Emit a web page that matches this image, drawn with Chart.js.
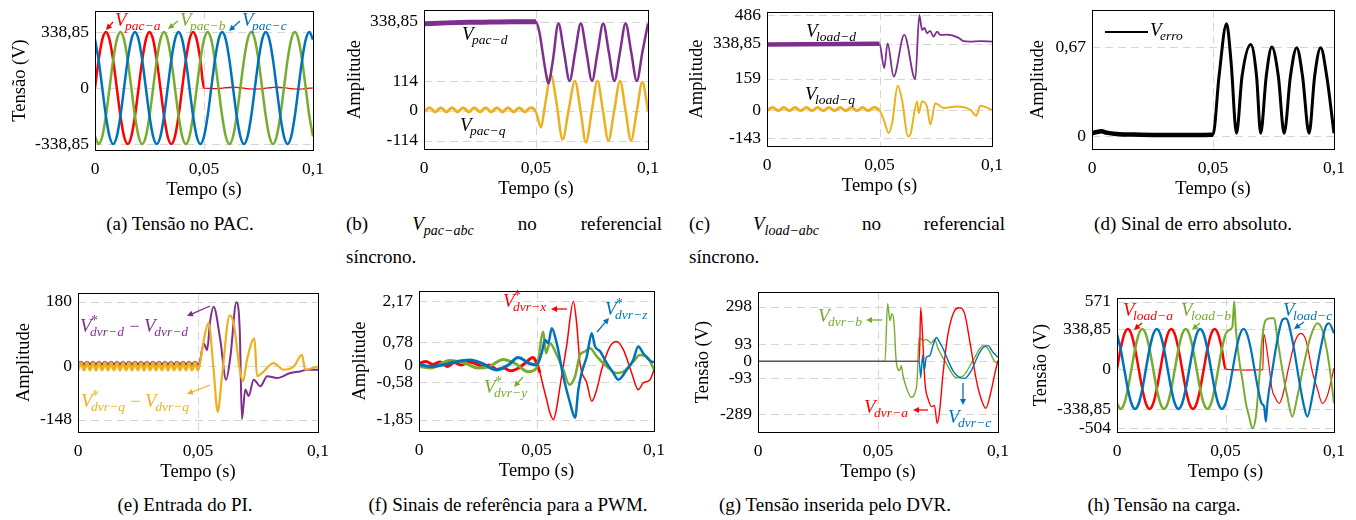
<!DOCTYPE html>
<html>
<head>
<meta charset="utf-8">
<script src="https://cdn.jsdelivr.net/npm/chart.js@4.4.1/dist/chart.umd.min.js"></script>
<style>
  html, body { margin: 0; padding: 0; background: #fff; }
  body { position: relative; width: 1356px; height: 520px; overflow: hidden; font-family: "Liberation Serif", "DejaVu Serif", serif; }
  canvas { position: absolute; }
  .cap { position: absolute; font-size: 19px; line-height: 22px; white-space: nowrap; color: #000; }
  .mid { transform: translateX(-50%); }
  .cap i { font-size: 19px; }
  .cap sub { font-style: italic; font-size: 14px; vertical-align: -5px; line-height: 0; }
</style>
</head>
<body>
<div class="cap mid" style="left:180px;top:213px">(a) Tensão no PAC.</div>
<div class="cap" style="left:346px;top:213px;width:316px;display:flex;justify-content:space-between"><span>(b)</span><span><i>V</i><sub>pac−abc</sub></span><span>no</span><span>referencial</span></div>
<div class="cap" style="left:346px;top:246px">síncrono.</div>
<div class="cap" style="left:689px;top:213px;width:316px;display:flex;justify-content:space-between"><span>(c)</span><span><i>V</i><sub>load−abc</sub></span><span>no</span><span>referencial</span></div>
<div class="cap" style="left:689px;top:246px">síncrono.</div>
<div class="cap mid" style="left:1193px;top:213px">(d) Sinal de erro absoluto.</div>
<div class="cap mid" style="left:185px;top:494px">(e) Entrada do PI.</div>
<div class="cap mid" style="left:508px;top:494px">(f) Sinais de referência para a PWM.</div>
<div class="cap mid" style="left:835px;top:494px">(g) Tensão inserida pelo DVR.</div>
<div class="cap mid" style="left:1164px;top:494px">(h) Tensão na carga.</div>

<canvas id="a"></canvas><canvas id="b"></canvas><canvas id="c"></canvas><canvas id="d"></canvas>
<canvas id="e"></canvas><canvas id="f"></canvas><canvas id="g"></canvas><canvas id="h"></canvas>

<script>
// ---- (a) tensão no PAC, 50 Hz, amostras a cada 30 graus
const tA = [0,0.00167,0.00333,0.005,0.00667,0.00833,0.01,0.01167,0.01333,0.015,0.01667,0.01833,0.02,0.02167,0.02333,0.025,0.02667,0.02833,0.03,0.03167,0.03333,0.035,0.03667,0.03833,0.04,0.04167,0.04333,0.045,0.04667,0.04833,0.05,0.05167,0.05333,0.055,0.05667,0.05833,0.06,0.06167,0.06333,0.065,0.06667,0.06833,0.07,0.07167,0.07333,0.075,0.07667,0.07833,0.08,0.08167,0.08333,0.085,0.08667,0.08833,0.09,0.09167,0.09333,0.095,0.09667,0.09833,0.1]
const pacA = [0,169,293,339,293,169,0,-169,-293,-339,-293,-169,
  0,169,293,339,293,169,0,-169,-293,-339,-293,-169,
  0,169,293,339,293,169,
  0,-2,-3,-4,-3,-1,2,4,5,4,2,-1,-4,-6,-7,-6,-4,-1,2,4,5,4,2,-1,-4,-6,-7,-6,-4,-1,0]
const pacB = [-293,-339,-293,-169,0,169,293,339,293,169,0,-169,
  -293,-339,-293,-169,0,169,293,339,293,169,0,-169,
  -293,-339,-293,-169,0,169,293,339,293,169,0,-169,
  -293,-339,-293,-169,0,169,293,339,293,169,0,-169,
  -293,-339,-293,-169,0,169,293,339,293,169,0,-169,-293]
const pacC = [293,169,0,-169,-293,-339,-293,-169,0,169,293,339,
  293,169,0,-169,-293,-339,-293,-169,0,169,293,339,
  293,169,0,-169,-293,-339,-293,-169,0,169,293,339,
  293,169,0,-169,-293,-339,-293,-169,0,169,293,339,
  293,169,0,-169,-293,-339,-293,-169,0,169,293,339,293]

// ---- (b) Vpac em dq
const bDT = [0,0.01,0.02,0.03,0.04,0.05,0.0515,0.053,0.0545,0.0555,0.0575,0.06,0.0625,0.065,0.0675,0.07,0.0725,0.075,0.0775,0.08,0.0825,0.085,0.0875,0.09,0.0925,0.095,0.0975,0.1]
const bDV = [332,335,337,338,339,339,300,220,140,105,190,333,224,114,224,333,224,114,224,333,224,114,224,333,224,114,224,333]
const rippleT = [0,0.0025,0.005,0.0075,0.01,0.0125,0.015,0.0175,0.02,0.0225,0.025,0.0275,0.03,0.0325,0.035,0.0375,0.04,0.0425,0.045,0.0475,0.05]
const bQpre = [-4,12,-4,12,-4,12,-4,12,-4,12,-4,12,-4,12,-4,12,-4,12,-4,12,-4]
const bQT = [0.0522,0.054,0.0567,0.059,0.0619,0.0645,0.0674,0.0699,0.0723,0.0749,0.0774,0.0799,0.0823,0.0849,0.0875,0.09,0.0924,0.095,0.0975,0.1]
const bQV = [-63,20,137,40,-109,0,114,0,-120,0,114,0,-114,0,114,0,-114,0,110,0]

// ---- (c) Vload em dq
const cDT = [0,0.05,0.0521,0.0536,0.0563,0.061,0.0659,0.0677,0.0689,0.07,0.0711,0.0725,0.074,0.0756,0.077,0.08,0.085,0.0874,0.09,0.095,0.1]
const cDV = [335,339,214,341,171,384,158,486,409,420,392,405,375,401,384,385,370,352,350,352,350]
const cQpre = [-3,13,-3,13,-3,13,-3,13,-3,13,-3,13,-3,13,-3,13,-3,13,-3,13,-3]
const cQT = [0.0519,0.0541,0.0556,0.0581,0.06,0.0627,0.0637,0.0667,0.0674,0.0689,0.0711,0.0726,0.0748,0.0785,0.0844,0.0904,0.093,0.0948,0.1]
const cQV = [-50,-118,-67,124,52,-135,-126,44,-16,44,18,-75,35,10,18,1,-29,22,1]

// ---- (d) erro absoluto
const dT = [0,0.002,0.004,0.006,0.01,0.02,0.03,0.04,0.05,0.0525,0.0556,0.0575,0.0597,0.062,0.0656,0.068,0.0697,0.072,0.0743,0.077,0.0794,0.082,0.0846,0.087,0.0897,0.092,0.0945,0.097,0.1]
const dV = [0.02,0.03,0.035,0.025,0.015,0.01,0.008,0.008,0.01,0.45,0.845,0.55,0.02,0.45,0.69,0.45,0.02,0.45,0.67,0.45,0.02,0.45,0.665,0.45,0.02,0.45,0.665,0.45,0.02]

// ---- (e) entrada do PI
const rippleE = [0,0.00125,0.0025,0.00375,0.005,0.00625,0.0075,0.00875,0.01,0.01125,0.0125,0.01375,0.015,0.01625,0.0175,0.01875,0.02,0.02125,0.0225,0.02375,0.025,0.02625,0.0275,0.02875,0.03,0.03125,0.0325,0.03375,0.035,0.03625,0.0375,0.03875,0.04,0.04125,0.0425,0.04375,0.045,0.04625,0.0475,0.04875,0.05]
const eQpre = [-10,10,-10,10,-10,10,-10,10,-10,10,-10,10,-10,10,-10,10,-10,10,-10,10,-10,10,-10,10,-10,10,-10,10,-10,10,-10,10,-10,10,-10,10,-10,10,-10,10,-10]
const eDpre = [4,12,4,12,4,12,4,12,4,12,4,12,4,12,4,12,4,12,4,12,4,12,4,12,4,12,4,12,4,12,4,12,4,12,4,12,4,12,4,12,4]
const eQT = [0.0506,0.0524,0.0544,0.0565,0.0582,0.06,0.0632,0.0649,0.0674,0.0688,0.0704,0.0735,0.0746,0.0767,0.0815,0.0857,0.0899,0.0933,0.0947,0.1]
const eQV = [0,73,121,-9,-126,-27,142,119,-9,-41,18,78,-27,-18,9,-9,0,32,-9,0]
const eDT = [0.0506,0.0524,0.0538,0.0551,0.0565,0.0593,0.0617,0.0635,0.066,0.0674,0.0683,0.0697,0.0711,0.0732,0.076,0.0788,0.0829,0.0885,0.0926,0.0954,0.1]
const eDV = [9,64,46,128,166,73,-37,27,178,100,-146,-64,-82,-37,-55,-27,-32,-18,-14,-9,-9]

// ---- (f) sinais de referência PWM
const fRT = [0,0.003,0.006,0.009,0.012,0.015,0.018,0.021,0.024,0.027,0.03,0.033,0.036,0.039,0.042,0.045,0.0485,0.0494,0.0515,0.0529,0.0543,0.0557,0.0572,0.0586,0.06,0.0628,0.0657,0.0671,0.0685,0.0714,0.0735,0.0756,0.0777,0.0813,0.0841,0.087,0.0905,0.0933,0.0954,0.0983,0.1]
const fRV = [0.05,0.12,0.02,0.1,-0.05,0.08,0,0.1,0.05,-0.05,0,-0.15,-0.1,-0.2,-0.12,0.05,0.25,0.18,-0.27,-0.73,-1.17,-1.62,-1.85,-1.45,-0.73,0.63,2.15,1.4,0.06,-0.61,-1.23,-0.84,-0.16,0.63,0.8,0.51,-0.27,-0.84,-0.61,-0.5,-0.16]
const fBT = [0,0.005,0.01,0.015,0.0217,0.027,0.033,0.038,0.0422,0.047,0.0501,0.0522,0.0536,0.055,0.0565,0.0586,0.0614,0.0643,0.0664,0.0678,0.0692,0.0714,0.0735,0.0749,0.0771,0.0799,0.0827,0.0848,0.0884,0.0912,0.0933,0.0954,0.099,0.1]
const fBV = [0.02,-0.05,0,0.1,0.17,0.05,-0.17,0,0.25,0.05,0,0.4,0.85,0.74,1.25,0.74,-0.39,-1.29,-1.79,-0.84,-0.27,0.29,1.08,0.63,0.46,0.06,-0.27,-0.5,-0.16,0.18,0.63,0.4,0.11,0.1]
const fGT = [0,0.005,0.013,0.02,0.025,0.03,0.0358,0.041,0.0465,0.05,0.0529,0.054,0.0557,0.0586,0.0614,0.064,0.0664,0.0685,0.0707,0.0728,0.0756,0.0799,0.0841,0.087,0.0912,0.094,0.0976,0.1]
const fGV = [-0.05,-0.1,0.15,0.05,-0.1,-0.05,0.19,0.05,-0.23,-0.1,1.13,0.4,0.74,0.34,-0.16,-0.67,-0.39,0.34,0.46,0.57,0.29,-0.05,-0.27,-0.22,0.11,0.34,0.23,-0.16]

// ---- (g) tensão inserida pelo DVR
const gRT = [0,0.0672,0.0678,0.0686,0.0696,0.071,0.0724,0.0735,0.0747,0.0757,0.0771,0.0792,0.0819,0.0838,0.0861,0.0882,0.091,0.0931,0.0949,0.0969,0.0987,0.1]
const gRV = [0,0,292,130,-120,-210,-247,-240,-338,-267,-66,151,276,292,260,113,-104,-210,-256,-175,-66,5]
const gGT = [0,0.0529,0.054,0.055,0.0558,0.0567,0.0576,0.059,0.0597,0.0604,0.0618,0.0639,0.0653,0.0663,0.0671,0.0688,0.0701,0.0722,0.0736,0.075,0.0785,0.0826,0.0854,0.0896,0.0938,0.0958,0.0986,0.1]
const gGV = [0,0,314,222,260,206,0,-50,-24,-77,-142,-196,-175,-104,130,113,120,100,120,70,-12,-88,-80,5,86,70,0,-8]
const gBT = [0,0.0672,0.0678,0.0686,0.0693,0.0701,0.0715,0.0729,0.0743,0.0757,0.0771,0.0792,0.0812,0.084,0.0861,0.0889,0.0917,0.0938,0.0958,0.0979,0.1]
const gBV = [0,0,-88,32,-50,22,30,86,130,104,70,5,-50,-88,-93,-50,32,75,86,50,22]

// ---- (h) tensão na carga (antes do afundamento igual a (a))
const hRT = [0.055,0.06,0.065,0.0672,0.0676,0.0695,0.0715,0.0727,0.0747,0.0762,0.0792,0.0823,0.0847,0.087,0.0902,0.0925,0.0946,0.0968,0.1]
const hRV = [-8,-10,-8,-5,297,105,-178,-234,-291,-234,20,246,302,246,-37,-178,-291,-234,6]
const hGT = [0.0517,0.0532,0.054,0.0548,0.0563,0.0578,0.0594,0.0609,0.0624,0.064,0.0655,0.067,0.0686,0.0709,0.0724,0.074,0.0762,0.0785,0.0808,0.0831,0.0862,0.0892,0.0923,0.0946,0.0977,0.1]
const hGV = [330,359,571,330,76,-93,-291,-404,-503,-404,-93,274,415,429,429,246,-8,-234,-404,-234,48,274,387,330,48,-291]
const hBT = [0.0678,0.0686,0.0693,0.0716,0.0739,0.0762,0.0778,0.0808,0.0839,0.0862,0.0877,0.09,0.0931,0.0962,0.0977,0.1]
const hBV = [-319,-446,-291,-8,246,415,429,246,-93,-319,-404,-234,104,359,387,302]

const FONT = '"Liberation Serif", "DejaVu Serif", serif'
const RED = '#ff0000', GREEN = '#77ac30', BLUE = '#0072bd', PURPLE = '#7e2f8e', YELLOW = '#edb120', BLACK = '#000000'

Chart.defaults.font.family = FONT
Chart.defaults.color = '#000'

const fmt = v => String(v).replace('.', ',')

function line(t, v, color, w, wPost) {
  const ds = {
    data: t.map((x, i) => ({ x, y: v[i] })),
    borderColor: color, borderWidth: w, pointRadius: 0, fill: false,
    cubicInterpolationMode: 'monotone'
  }
  if (wPost) ds.segment = { borderWidth: s => s.p0.parsed.x < 0.0499 ? w : wPost }
  return ds
}

// rótulos e setas, em coordenadas da página
const notes = {
  a: [
    { m: [{ sub: 'pac−a' }], x: 115, y: 26, c: RED }, { ar: [113, 22, 106, 30], c: RED },
    { m: [{ sub: 'pac−b' }], x: 180, y: 26, c: GREEN }, { ar: [178, 21, 168, 29], c: GREEN },
    { m: [{ sub: 'pac−c' }], x: 242, y: 26, c: BLUE }, { ar: [240, 21, 229, 31], c: BLUE }
  ],
  b: [{ m: [{ sub: 'pac−d' }], x: 462, y: 40, c: BLACK }, { m: [{ sub: 'pac−q' }], x: 460, y: 131, c: BLACK }],
  c: [{ m: [{ sub: 'load−d' }], x: 806, y: 37, c: BLACK }, { m: [{ sub: 'load−q' }], x: 805, y: 100, c: BLACK }],
  d: [{ ln: [1105, 32, 1148, 32] }, { m: [{ sub: 'erro' }], x: 1150, y: 36, c: BLACK }],
  e: [
    { m: [{ sub: 'dvr−d', sup: '*' }, ' − ', { sub: 'dvr−d' }], x: 80, y: 332, c: PURPLE }, { ar: [210, 306, 187, 316], c: PURPLE },
    { m: [{ sub: 'dvr−q', sup: '*' }, ' − ', { sub: 'dvr−q' }], x: 81, y: 407, c: YELLOW }, { ar: [210, 385, 187, 394], c: YELLOW }
  ],
  f: [
    { m: [{ sub: 'dvr−x', sup: '*' }], x: 503, y: 307, c: RED }, { ar: [567, 309, 551, 309], c: RED },
    { m: [{ sub: 'dvr−z', sup: '*' }], x: 605, y: 315, c: BLUE }, { ar: [597, 332, 609, 318], c: BLUE },
    { m: [{ sub: 'dvr−y', sup: '*' }], x: 484, y: 393, c: GREEN }, { ar: [523, 377, 514, 387], c: GREEN }
  ],
  g: [
    { m: [{ sub: 'dvr−b' }], x: 818, y: 322, c: GREEN }, { ar: [882, 320, 866, 320], c: GREEN },
    { m: [{ sub: 'dvr−a' }], x: 864, y: 413, c: RED }, { ar: [928, 410, 913, 410], c: RED },
    { m: [{ sub: 'dvr−c' }], x: 948, y: 423, c: BLUE }, { ar: [963, 383, 963, 405], c: BLUE }
  ],
  h: [
    { m: [{ sub: 'load−a' }], x: 1123, y: 316, c: RED }, { ar: [1142, 323, 1134, 330], c: RED },
    { m: [{ sub: 'load−b' }], x: 1181, y: 316, c: GREEN }, { ar: [1200, 323, 1192, 330], c: GREEN },
    { m: [{ sub: 'load−c' }], x: 1283, y: 316, c: BLUE }, { ar: [1304, 322, 1294, 329], c: BLUE }
  ]
}
const offs = {}

function drawMath(ctx, x, y, parts, color) {
  ctx.fillStyle = color
  ctx.textAlign = 'left'
  ctx.textBaseline = 'alphabetic'
  for (const p of parts) {
    if (typeof p === 'string') {
      ctx.font = `18px ${FONT}`
      ctx.fillText(p, x, y)
      x += ctx.measureText(p).width
      continue
    }
    ctx.font = `italic 19px ${FONT}`
    ctx.fillText('V', x, y)
    const sx = x + ctx.measureText('V').width - 1.5
    ctx.font = `italic 13.5px ${FONT}`
    const w = ctx.measureText(p.sub).width
    ctx.fillText(p.sub, sx, y + 4)
    if (p.sup) {
      ctx.font = `14px ${FONT}`
      ctx.fillText(p.sup, sx + 1, y - 7)
    }
    x = sx + w + 1
  }
}

function drawArrow(ctx, x1, y1, x2, y2, color) {
  const a = Math.atan2(y2 - y1, x2 - x1), h = 6, s = 3
  const c = Math.cos(a), n = Math.sin(a)
  ctx.strokeStyle = color
  ctx.fillStyle = color
  ctx.lineWidth = 1.3
  ctx.beginPath()
  ctx.moveTo(x1, y1)
  ctx.lineTo(x2 - h * 0.8 * c, y2 - h * 0.8 * n)
  ctx.stroke()
  ctx.beginPath()
  ctx.moveTo(x2, y2)
  ctx.lineTo(x2 - h * c + s * n, y2 - h * n - s * c)
  ctx.lineTo(x2 - h * c - s * n, y2 - h * n + s * c)
  ctx.closePath()
  ctx.fill()
}

const deco = {
  id: 'deco',
  beforeDatasetsDraw(chart) {
    const { ctx, chartArea: a, scales: { x, y } } = chart
    ctx.save()
    ctx.strokeStyle = '#d6d6d6'
    ctx.lineWidth = 1
    ctx.setLineDash([8, 5])
    ctx.beginPath()
    y.ticks.forEach(t => {
      const py = Math.round(y.getPixelForValue(t.value)) + 0.5
      ctx.moveTo(a.left, py)
      ctx.lineTo(a.right, py)
    })
    const px = Math.round(x.getPixelForValue(0.05)) + 0.5
    ctx.moveTo(px, a.top)
    ctx.lineTo(px, a.bottom)
    ctx.stroke()
    ctx.restore()
  },
  afterDatasetsDraw(chart) {
    const { ctx, chartArea: a } = chart
    ctx.save()
    ctx.strokeStyle = '#000'
    ctx.lineWidth = 1
    ctx.setLineDash([])
    ctx.strokeRect(Math.round(a.left) + 0.5, Math.round(a.top) + 0.5, Math.round(a.right - a.left), Math.round(a.bottom - a.top))
    const id = chart.canvas.id
    const [ox, oy] = offs[id]
    ctx.translate(-ox, -oy)
    for (const n of notes[id] || []) {
      if (n.m) drawMath(ctx, n.x, n.y, n.m, n.c)
      if (n.ar) drawArrow(ctx, ...n.ar, n.c)
      if (n.ln) {
        ctx.strokeStyle = '#000'
        ctx.lineWidth = 2
        ctx.beginPath()
        ctx.moveTo(n.ln[0], n.ln[1])
        ctx.lineTo(n.ln[2], n.ln[3])
        ctx.stroke()
      }
    }
    ctx.restore()
  }
}
Chart.register(deco)

// box = [esquerda, topo, direita, base do gráfico, x do título do eixo y]
function panel(id, box, yTitle, yMin, yMax, yTicks, datasets) {
  const [L, T, R, B, tx] = box
  const left = tx - 14, top = T - 6
  const w = R - left + 12, h = B - top + 52
  const cv = document.getElementById(id)
  cv.width = w
  cv.height = h
  cv.style.left = left + 'px'
  cv.style.top = top + 'px'
  cv.style.width = w + 'px'
  cv.style.height = h + 'px'
  offs[id] = [left, top]
  const tickFont = { family: FONT, size: 17.5 }
  const titleFont = { family: FONT, size: 18.5 }
  new Chart(cv, {
    type: 'line',
    data: { datasets },
    options: {
      responsive: false,
      animation: false,
      events: [],
      layout: { padding: { top: 6, right: 12, left: 0, bottom: 0 } },
      plugins: { legend: { display: false }, tooltip: { enabled: false } },
      scales: {
        x: {
          type: 'linear', min: 0, max: 0.1,
          afterBuildTicks: s => { s.ticks = [0, 0.05, 0.1].map(value => ({ value })) },
          ticks: { callback: fmt, font: tickFont, color: '#000', padding: 9, maxRotation: 0, autoSkip: false },
          grid: { display: false, drawTicks: false },
          border: { display: false },
          title: { display: true, text: 'Tempo (s)', font: titleFont, color: '#000', padding: { top: 0, bottom: 1 } },
          afterFit: s => { s.height = 52; s.paddingLeft = 0; s.paddingRight = 0 }
        },
        y: {
          type: 'linear', min: yMin, max: yMax,
          afterBuildTicks: s => { s.ticks = yTicks.map(value => ({ value })) },
          ticks: { callback: fmt, font: tickFont, color: '#000', padding: 6, autoSkip: false },
          grid: { display: false, drawTicks: false },
          border: { display: false },
          title: { display: true, text: yTitle, font: titleFont, color: '#000', padding: 3 },
          afterFit: s => { s.width = L - left; s.paddingTop = 0; s.paddingBottom = 0 }
        }
      }
    }
  })
}

panel('a', [95, 11, 313, 150, 20], 'Tensão (V)', -375, 466, [-338.85, 0, 338.85], [
  line(tA, pacC, BLUE, 2.5),
  line(tA, pacB, GREEN, 2.5),
  line(tA, pacA, RED, 2.5, 1.2)
])

panel('b', [424, 10, 648, 149, 355], 'Amplitude', -145, 384, [-114, 0, 114, 338.85], [
  line(bDT, bDV, PURPLE, 5, 2.5),
  line(rippleT.concat(bQT), bQpre.concat(bQV), YELLOW, 3, 2.5)
])

panel('c', [767, 12, 992, 146, 697], 'Amplitude', -184, 501, [-143, 0, 159, 338.85, 486], [
  line(cDT, cDV, PURPLE, 4.5, 1.8),
  line(rippleT.concat(cQT), cQpre.concat(cQV), YELLOW, 3, 2)
])

panel('d', [1092, 10, 1334, 149, 1038], 'Amplitude', -0.098, 0.949, [0, 0.67], [
  line(dT, dV, BLACK, 4.5, 3)
])

panel('e', [78, 293, 318, 432, 24], 'Amplitude', -182, 204, [-148, 0, 180], [
  line(rippleE.concat(eQT), eQpre.concat(eQV), YELLOW, 3, 2.2),
  line(rippleE.concat(eDT), eDpre.concat(eDV), PURPLE, 3, 2)
])

panel('f', [419, 291, 654, 431, 360], 'Amplitude', -2.24, 2.51, [-1.85, -0.58, 0, 0.78, 2.17], [
  line(fBT, fBV, BLUE, 3, 2.5),
  line(fGT, fGV, GREEN, 3, 2.5),
  line(fRT, fRV, RED, 3, 1.5)
])

panel('g', [758, 292, 998, 432, 703], 'Tensão (V)', -385, 378, [-289, -93, 0, 93, 298], [
  line(gBT, gBV, BLUE, 1.4),
  line(gRT, gRV, RED, 1.4),
  line(gGT, gGV, GREEN, 1.4)
])

panel('h', [1117, 298, 1334, 432, 1041], 'Tensão (V)', -534, 601, [-504, -338.85, 0, 338.85, 571], [
  line(tA.slice(0, 41).concat(hBT), pacC.slice(0, 41).concat(hBV), BLUE, 2.5, 2.2),
  line(tA.slice(0, 31).concat(hGT), pacB.slice(0, 31).concat(hGV), GREEN, 2.5, 2),
  line(tA.slice(0, 31).concat(hRT), pacA.slice(0, 31).concat(hRV), RED, 2.5, 1.2)
])
</script>
</body>
</html>
